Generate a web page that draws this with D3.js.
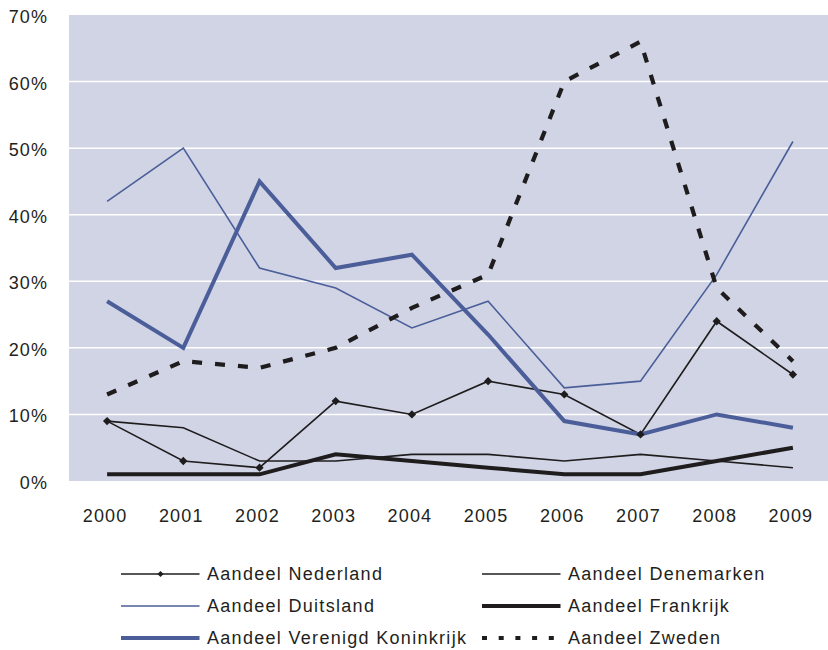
<!DOCTYPE html>
<html><head><meta charset="utf-8">
<script src="https://cdn.jsdelivr.net/npm/d3@7"></script>
<style>body{margin:0;background:#fff}svg{display:block}text{font-family:"Liberation Sans",Arial,sans-serif;fill:#231f20}</style>
</head><body><svg id="c" width="828" height="650"></svg>
<script>
const years = ["2000","2001","2002","2003","2004","2005","2006","2007","2008","2009"];
const yTicks = [0,10,20,30,40,50,60,70];
const nederland = [9,3,2,12,10,15,13,7,24,16];
const denemarken = [9,8,3,3,4,4,3,4,3,2];
const duitsland = [42,50,32,29,23,27,14,15,31,51];
const frankrijk = [1,1,1,4,3,2,1,1,3,5];
const verenigdKoninkrijk = [27,20,45,32,34,22,9,7,10,8];
const zweden = [13,18,17,20,26,31,60,66,29,18];

const blue = "#4b5e99", black = "#1f1c1d";
const series = [
  {name:"Aandeel Nederland", values:nederland, color:black, width:1.6, marker:true},
  {name:"Aandeel Denemarken", values:denemarken, color:black, width:1.6},
  {name:"Aandeel Duitsland", values:duitsland, color:blue, width:1.6},
  {name:"Aandeel Frankrijk", values:frankrijk, color:black, width:4},
  {name:"Aandeel Verenigd Koninkrijk", values:verenigdKoninkrijk, color:blue, width:4},
  {name:"Aandeel Zweden", values:zweden, color:black, width:4.2, dash:"10,13"}
];

const svg = d3.select("#c");
const L = 69, R = 831, T = 15, B = 481;
const x = d3.scaleBand().domain(years).range([L, R]);
const y = d3.scaleLinear().domain([0,70]).range([B, T]);

svg.append("rect").attr("x",L).attr("y",T).attr("width",828-L).attr("height",B-T).attr("fill","#d0d4e5");
svg.append("g").selectAll("line").data(yTicks.filter(d=>d>0&&d<70)).join("line")
  .attr("x1",L).attr("x2",828).attr("y1",d=>y(d)).attr("y2",d=>y(d))
  .attr("stroke","#fff").attr("stroke-width",1.5);

const yAxis = svg.append("g").attr("transform",`translate(${L},0)`)
  .call(d3.axisLeft(y).tickValues(yTicks).tickFormat(d=>d+"%").tickSize(0).tickPadding(21));
yAxis.select(".domain").remove();
yAxis.selectAll("text").attr("font-size",18).attr("letter-spacing","1.1px").attr("dy","0.42em")
  .attr("font-family","Liberation Sans, Arial, sans-serif").attr("fill","#231f20");

const xAxis = svg.append("g").attr("transform",`translate(-2,${B})`)
  .call(d3.axisBottom(x).tickSize(0).tickPadding(28));
xAxis.select(".domain").remove();
xAxis.selectAll("text").attr("font-size",18).attr("letter-spacing","1.2px")
  .attr("font-family","Liberation Sans, Arial, sans-serif").attr("fill","#231f20");

const line = d3.line().x((d,i)=>x(years[i])+x.bandwidth()/2).y(d=>y(d));
series.forEach(s=>{
  svg.append("path").datum(s.values).attr("d",line).attr("fill","none")
    .attr("stroke",s.color).attr("stroke-width",s.width)
    .attr("stroke-dasharray",s.dash||null).attr("stroke-linejoin","miter");
});
const diamond = d3.symbol().type(d3.symbolDiamond2).size(44);
series.filter(s=>s.marker).forEach(s=>{
  svg.append("g").selectAll("path").data(s.values).join("path")
    .attr("d",diamond).attr("fill",s.color)
    .attr("transform",(d,i)=>`translate(${x(years[i])+x.bandwidth()/2},${y(d)})`);
});

// legend
const lg = svg.append("g");
series.forEach((s,i)=>{
  const col = i%2, row = Math.floor(i/2);
  const x0 = col ? 482 : 121, yy = 574 + row*32;
  const g = lg.append("g").attr("transform",`translate(${x0},${yy})`);
  g.append("line").attr("x1",0).attr("x2",78.5).attr("y1",0).attr("y2",0)
    .attr("stroke",s.color).attr("stroke-width",s.width).attr("stroke-dasharray",s.dash?"5,11.7":null);
  if (s.marker) g.append("path").attr("d",d3.symbol().type(d3.symbolDiamond2).size(24)).attr("transform","translate(39.5,0)").attr("fill",s.color);
  g.append("text").attr("x",86).attr("y",0).attr("dy","0.36em").attr("font-size",18)
    .attr("letter-spacing","1.3px").text(s.name);
});
</script></body></html>
